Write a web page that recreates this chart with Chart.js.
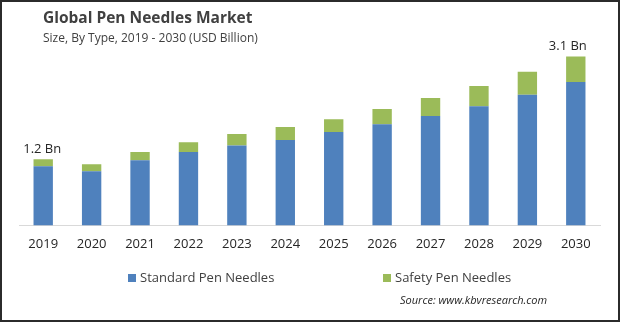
<!DOCTYPE html>
<html>
<head>
<meta charset="utf-8">
<script src="https://cdn.jsdelivr.net/npm/chart.js@4"></script>
<style>
  html, body { margin: 0; padding: 0; background: #fff; }
  #wrap { position: relative; width: 620px; height: 322px; }
</style>
</head>
<body>
<div id="wrap"><canvas id="penChart" width="620" height="322"></canvas></div>
<script>
const years = ["2019", "2020", "2021", "2022", "2023", "2024", "2025", "2026", "2027", "2028", "2029", "2030"];
const standardPen = [1.08, 0.99, 1.19, 1.34, 1.46, 1.56, 1.71, 1.85, 2.00, 2.18, 2.39, 2.62];
const safetyPen = [0.13, 0.13, 0.15, 0.18, 0.21, 0.24, 0.23, 0.28, 0.33, 0.37, 0.42, 0.47];
const totalLabels = ["1.2 Bn", "", "", "", "", "", "", "", "", "", "", "3.1 Bn"];

const FONT = "'Open Sans', sans-serif";

// titles, legend, source, value labels and frame
const decorPlugin = {
    id: "decor",
    afterDraw(chart) {
        const ctx = chart.ctx;
        ctx.save();

        ctx.fillStyle = "#404040";
        ctx.textBaseline = "middle";
        ctx.textAlign = "left";
        ctx.font = "bold 15.5px " + FONT;
        ctx.fillText("Global Pen Needles Market", 43, 19);
        ctx.font = "12px " + FONT;
        ctx.fillText("Size, By Type, 2019 - 2030 (USD Billion)", 43, 39);

        // value labels above first / last bar
        const meta = chart.getDatasetMeta(1);
        ctx.font = "13px " + FONT;
        ctx.fillStyle = "#262626";
        ctx.textAlign = "center";
        totalLabels.forEach(function (txt, i) {
            if (!txt) return;
            const bar = meta.data[i];
            const dx = i === totalLabels.length - 1 ? -8 : -1;
            ctx.fillText(txt, bar.x + dx, bar.y - 10);
        });

        // legend
        const legendItems = [
            { x: 128, label: chart.data.datasets[0].label, color: chart.data.datasets[0].backgroundColor },
            { x: 383, label: chart.data.datasets[1].label, color: chart.data.datasets[1].backgroundColor }
        ];
        ctx.textAlign = "left";
        ctx.font = "13px " + FONT;
        legendItems.forEach(function (it) {
            ctx.fillStyle = it.color;
            ctx.fillRect(it.x, 274, 8, 8);
            ctx.fillStyle = "#404040";
            ctx.fillText(it.label, it.x + 12, 278);
        });

        ctx.font = "italic 11px " + FONT;
        ctx.fillStyle = "#262626";
        ctx.fillText("Source: www.kbvresearch.com", 400, 301);

        ctx.strokeStyle = "#2b2b2b";
        ctx.lineWidth = 2;
        ctx.strokeRect(1, 1, 618, 320);
        ctx.restore();
    }
};

new Chart(document.getElementById("penChart").getContext("2d"), {
    type: "bar",
    data: {
        labels: years,
        datasets: [{
            label: "Standard Pen Needles",
            data: standardPen,
            backgroundColor: "#4F81BD",
            barPercentage: 0.4,
            categoryPercentage: 1
        }, {
            label: "Safety Pen Needles",
            data: safetyPen,
            backgroundColor: "#9BBB59",
            barPercentage: 0.4,
            categoryPercentage: 1
        }]
    },
    options: {
        responsive: false,
        devicePixelRatio: 1,
        animation: false,
        layout: {
            padding: { left: 19, right: 20, top: 34, bottom: 59 }
        },
        plugins: {
            legend: { display: false },
            tooltip: { enabled: false }
        },
        scales: {
            x: {
                stacked: true,
                grid: { display: false, drawTicks: false },
                border: { display: true, color: "#d9d9d9", width: 1 },
                ticks: {
                    padding: 11,
                    color: "#262626",
                    font: { family: FONT, size: 13 }
                }
            },
            y: {
                stacked: true,
                display: false,
                min: 0,
                max: 3.5
            }
        }
    },
    plugins: [decorPlugin]
});
</script>
</body>
</html>
